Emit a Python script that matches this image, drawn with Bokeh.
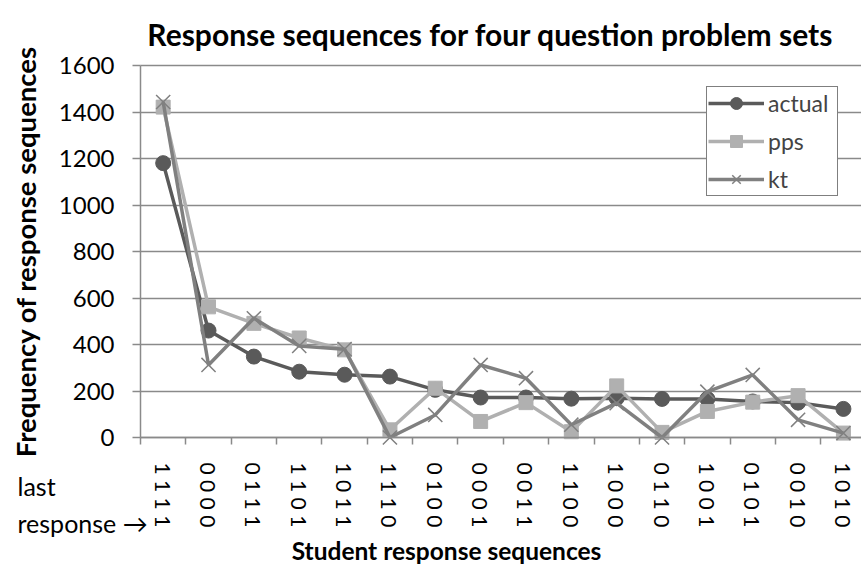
import math
from bokeh.plotting import figure
from bokeh.models import Range1d, FixedTicker, Legend, LegendItem, Label, Grid
from bokeh.embed import file_html
from bokeh.resources import INLINE

categories = ["1111", "0000", "0111", "1101", "1011", "1110", "0100", "0001",
              "0011", "1100", "1000", "0110", "1001", "0101", "0010", "1010"]
actual = [1180, 460, 348, 283, 270, 262, 205, 172, 172, 167, 169, 166, 166, 155, 150, 123]
pps = [1421, 562, 491, 428, 377, 33, 212, 69, 150, 25, 222, 22, 112, 152, 180, 19]
kt = [1443, 312, 513, 394, 380, 0, 97, 312, 255, 55, 148, 0, 197, 269, 76, 19]
y_ticks = [0, 200, 400, 600, 800, 1000, 1200, 1400, 1600]

FONT = "Lato"
GRID = "#8a8a8a"
C_ACTUAL = "#5a5a5a"
C_PPS = "#b0b0b0"
C_KT = "#808080"

xs = list(range(len(categories)))
X0 = -0.5
Y0, Y1 = y_ticks[0], y_ticks[-1]

W, H = 861, 569
PX_X = 45.35                 # pixels per category
PX_Y = 372.0 / (Y1 - Y0)     # pixels per count
LEFT_PAD, BOTTOM_PAD, TOP_PAD = 140, 132, 65

x_range = Range1d(X0 - LEFT_PAD / PX_X, X0 + (W - LEFT_PAD) / PX_X)
y_range = Range1d(Y0 - BOTTOM_PAD / PX_Y, Y1 + TOP_PAD / PX_Y)
X1 = x_range.end

p = figure(width=W, height=H, x_range=x_range, y_range=y_range,
           output_backend="svg", toolbar_location=None, title=None,
           min_border_left=0, min_border_right=0, min_border_top=0, min_border_bottom=0)
p.outline_line_color = None
p.background_fill_color = "white"
p.border_fill_color = "white"

for g in p.grid:
    g.visible = False

# y axis drawn at the left edge of the category area
yax = p.yaxis[0]
yax.fixed_location = X0
yax.bounds = (Y0, Y1)
yax.ticker = FixedTicker(ticks=y_ticks)
yax.axis_line_color = GRID
yax.axis_line_width = 1.5
yax.major_tick_line_color = GRID
yax.major_tick_line_width = 1.5
yax.major_tick_out = 8
yax.major_tick_in = 0
yax.minor_tick_line_color = None
yax.major_label_standoff = 18
yax.major_label_text_font = FONT
yax.major_label_text_font_size = "24px"
yax.major_label_text_color = "black"

# x axis drawn at y = 0
xax = p.xaxis[0]
xax.fixed_location = Y0
xax.bounds = (X0, X1)
xax.ticker = FixedTicker(ticks=xs, minor_ticks=[i - 0.5 for i in range(len(categories) + 1)])
xax.major_label_overrides = {i: "  ".join(c) for i, c in enumerate(categories)}
xax.major_label_orientation = -math.pi / 2
xax.axis_line_color = GRID
xax.axis_line_width = 1.5
xax.major_tick_line_color = None
xax.minor_tick_line_color = GRID
xax.minor_tick_line_width = 1.5
xax.minor_tick_out = 7
xax.minor_tick_in = 0
xax.major_label_standoff = 18
xax.major_label_text_font = FONT
xax.major_label_text_font_size = "21px"
xax.major_label_text_color = "black"

grid_kw = dict(dimension=1, ticker=FixedTicker(ticks=y_ticks), bounds=(Y0, Y1),
               grid_line_color=GRID, grid_line_width=1.5)
if "cross_bounds" in Grid.properties():
    grid_kw["cross_bounds"] = (X0, X1)
    p.add_layout(Grid(**grid_kw))
else:
    p.segment(x0=[X0] * len(y_ticks), x1=[X1] * len(y_ticks), y0=y_ticks, y1=y_ticks,
              line_color=GRID, line_width=1.5)

r_a_l = p.line(xs, actual, line_color=C_ACTUAL, line_width=3.5)
r_a_m = p.scatter(xs, actual, marker="circle", size=15, fill_color=C_ACTUAL, line_color=C_ACTUAL)
r_p_l = p.line(xs, pps, line_color=C_PPS, line_width=3.5)
r_p_m = p.scatter(xs, pps, marker="square", size=14, fill_color=C_PPS, line_color=C_PPS)
r_k_l = p.line(xs, kt, line_color=C_KT, line_width=3.5)
r_k_m = p.scatter(xs, kt, marker="x", size=20, line_color=C_KT, line_width=1.5)

legend = Legend(items=[LegendItem(label="actual", renderers=[r_a_l, r_a_m]),
                       LegendItem(label="pps", renderers=[r_p_l, r_p_m]),
                       LegendItem(label="kt", renderers=[r_k_l, r_k_m])],
                location=(706, 373), margin=0, padding=1, spacing=8,
                glyph_width=56, glyph_height=30, label_standoff=4, label_width=68,
                label_text_font=FONT, label_text_font_size="23px",
                border_line_color="black", border_line_width=1.5,
                background_fill_color="white", background_fill_alpha=1.0)
p.add_layout(legend)


def at_x(px):
    return X0 + (px - LEFT_PAD) / PX_X


def at_y(py):
    return Y0 + (H - BOTTOM_PAD - py) / PX_Y


lab = dict(text_font=FONT, text_color="black", text_baseline="middle")
p.add_layout(Label(x=at_x(490), y=at_y(33), text="Response sequences for four question problem sets",
                   text_align="center", text_font_size="30px", text_font_style="bold", **lab))
p.add_layout(Label(x=at_x(25), y=at_y(251), text="Frequency of response sequences", angle=math.pi / 2,
                   text_align="center", text_font_size="27.5px", text_font_style="bold", **lab))
p.add_layout(Label(x=at_x(446), y=at_y(550), text="Student response sequences", text_align="center",
                   text_font_size="24.5px", text_font_style="bold", **lab))
p.add_layout(Label(x=at_x(17), y=at_y(485), text="last", text_align="left",
                   text_font_size="25px", **lab))
p.add_layout(Label(x=at_x(17), y=at_y(522), text="response \u2192", text_align="left",
                   text_font_size="25px", **lab))

open("out.html", "w").write(file_html(p, INLINE))
